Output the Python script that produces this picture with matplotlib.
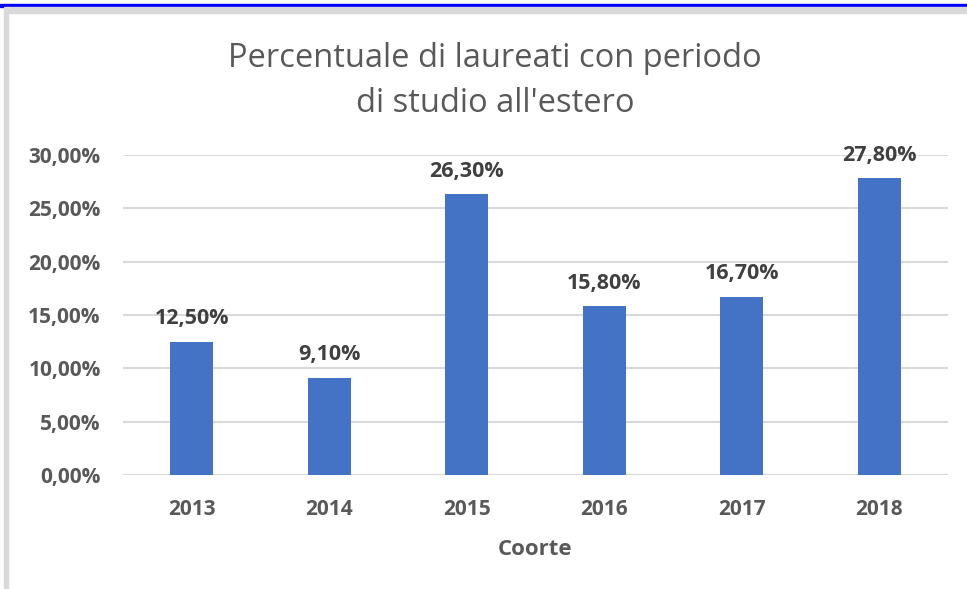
import matplotlib.pyplot as plt
from matplotlib.patches import Rectangle

years = ['2013', '2014', '2015', '2016', '2017', '2018']
values = [12.5, 9.1, 26.3, 15.8, 16.7, 27.8]
yticks = [0, 5, 10, 15, 20, 25, 30]

plt.rcParams['font.family'] = ['Open Sans', 'DejaVu Sans']

fig = plt.figure(figsize=(9.67, 5.89), dpi=100)
W, H = 967, 589

# cornice dello screenshot
fig.patches.append(Rectangle((0, 1 - 7 / H), 1, 3 / H, transform=fig.transFigure,
                             color='#0000ff', zorder=0))
fig.patches.append(Rectangle((4 / W, 0), 3.5 / W, 1 - 7 / H, transform=fig.transFigure,
                             color='#d9d9d9', zorder=0))
fig.patches.append(Rectangle((7 / W, 1 - 13 / H), 1, 6 / H, transform=fig.transFigure,
                             color='#d9d9d9', zorder=0))

ax = fig.add_axes([123 / W, 1 - 475 / H, (948 - 123) / W, (475 - 155) / H])
x = range(len(years))
bars = ax.bar(x, values, width=0.31, color='#4472c4', zorder=3)

for xi, v in zip(x, values):
    ax.text(xi, v + 1.2, f'{v:.2f}%'.replace('.', ','), ha='center', va='bottom',
            fontsize=15.5, fontweight='bold', color='#404040', clip_on=False)

ax.set_xlim(-0.5, len(years) - 0.5)
ax.set_ylim(0, 30)
ax.set_yticks(yticks)
ax.set_yticklabels([f'{t:.2f}%'.replace('.', ',') for t in yticks])
ax.set_xticks(list(x))
ax.set_xticklabels(years)
ax.tick_params(length=0, labelsize=15, labelcolor='#595959')
ax.tick_params(axis='y', pad=16)
ax.tick_params(axis='x', pad=17)
for lab in ax.get_xticklabels() + ax.get_yticklabels():
    lab.set_fontweight('bold')

ax.grid(axis='y', color='#d9d9d9', linewidth=1.5, zorder=0)
for s in ax.spines.values():
    s.set_visible(False)

ax.set_xlabel('Coorte', fontsize=16, fontweight='bold', color='#595959', labelpad=14)

fig.text(495 / W, 1 - 81 / H, "Percentuale di laureati con periodo\ndi studio all'estero",
         ha='center', va='center', fontsize=23.5, color='#595959', linespacing=1.5)

plt.savefig('out.png', dpi=100)
